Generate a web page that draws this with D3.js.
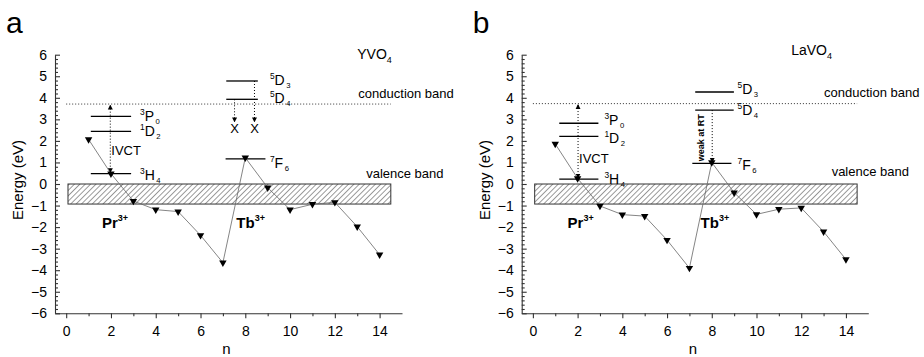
<!DOCTYPE html>
<html lang="en">
<head>
<meta charset="UTF-8">
<title>Pr3+ / Tb3+ levels</title>
<style>
 body{margin:0;background:#fff;}
 svg{display:block;font-family:"Liberation Sans",Arial,sans-serif;}
</style>
</head>
<body>
<svg width="924" height="357"></svg>
<script src="https://d3js.org/d3.v7.min.js"></script>
<script>
// n = number of 4f electrons
var nVals = [1, 2, 3, 4, 5, 6, 7, 8, 9, 10, 11, 12, 13, 14];
// ground state energies (eV) of Ln3+
var yvo4 = [2.07, 0.48, -0.79, -1.19, -1.28, -2.38, -3.65, 1.22, -0.17, -1.19, -0.94, -0.85, -1.98, -3.28];
var lavo4 = [1.86, 0.26, -1.02, -1.42, -1.49, -2.60, -3.90, 1.00, -0.40, -1.41, -1.17, -1.11, -2.21, -3.50];
// excited levels: Pr 3P0, 1D2, 3H4 / Tb 5D3, 5D4, 7F6
var levelNames = [["3", "P", "0"], ["1", "D", "2"], ["3", "H", "4"], ["5", "D", "3"], ["5", "D", "4"], ["7", "F", "6"]];
var yvo4Levels = [3.14, 2.44, 0.48, 4.78, 3.93, 1.17];
var lavo4Levels = [2.82, 2.21, 0.23, 4.27, 3.43, 0.96];
var cbYvo4 = 3.71, cbLavo4 = 3.73;
var vbTop = 0, vbBottom = -0.93;
var xTicks = [0, 2, 4, 6, 8, 10, 12, 14];
var xMinor = [1, 3, 5, 7, 9, 11, 13];
var yTicks = [-6, -5, -4, -3, -2, -1, 0, 1, 2, 3, 4, 5, 6];

var svg = d3.select("svg");
var defs = svg.append("defs");

defs.append("pattern").attr("id", "hatch").attr("patternUnits", "userSpaceOnUse")
    .attr("width", 3.8).attr("height", 3.8).attr("patternTransform", "rotate(45)")
    .append("line").attr("x1", 0).attr("y1", 0).attr("x2", 0).attr("y2", 3.8)
    .attr("stroke", "#222").attr("stroke-width", 0.9);

defs.append("marker").attr("id", "ah").attr("viewBox", "0 0 10 10")
    .attr("refX", 9).attr("refY", 5).attr("markerWidth", 5).attr("markerHeight", 6)
    .attr("orient", "auto-start-reverse").attr("markerUnits", "userSpaceOnUse")
    .append("path").attr("d", "M0,0L10,5L0,10Z").attr("fill", "#000");

var panels = [
  {letter: "a", host: ["YVO", "4"], values: yvo4, levels: yvo4Levels, cb: cbYvo4, x0: 55, x1: 402,
   prSpan: [1.1, 2.9], tbSpans: [[7.15, 8.56], [7.15, 8.56], [7.12, 8.9]], prLab: 3.3, tbLab: 9.1,
   labShift: [0, 0, 1, -1, -1, 4],
   ivct: 1.97, ivctY: 1.35, title: [13.0, 5.78], cbLab: [13.05, 3.99], vbLab: [13.4, 0.27], prIon: 1.6, tbIon: 7.6, kind: "yvo"},
  {letter: "b", host: ["LaVO", "4"], values: lavo4, levels: lavo4Levels, cb: cbLavo4, x0: 521.7, x1: 868.3,
   prSpan: [1.18, 2.93], tbSpans: [[7.26, 8.99], [7.26, 8.98], [7.13, 8.88]], prLab: 3.2, tbLab: 9.15,
   labShift: [-3, 2, 0, -3, 0, 2],
   ivct: 2.02, ivctY: 0.98, title: [11.55, 6.0], cbLab: [13.02, 4.06], vbLab: [13.36, 0.36], prIon: 1.55, tbIon: 7.5, kind: "lavo"}
];

function subText(g, x, y, parts, size) {
  var t = g.append("text").attr("x", x).attr("y", y).attr("font-size", size);
  t.append("tspan").attr("font-size", size * 0.6).attr("dy", -6).text(parts[0]);
  t.append("tspan").attr("dy", 6).text(parts[1]);
  t.append("tspan").attr("font-size", size * 0.55).attr("dy", 3).attr("dx", 1.5).text(parts[2]);
  return t;
}

panels.forEach(function (p) {
  var x = d3.scaleLinear().domain([-0.5, 15]).range([p.x0, p.x1]);
  var y = d3.scaleLinear().domain([-6, 6]).range([313.3, 54.7]);
  var g = svg.append("g");

  // panel letter
  g.append("text").attr("x", p.x0 - 49).attr("y", 33).attr("font-size", 30).text(p.letter);

  // valence band (hatched)
  g.append("rect").attr("x", x(0.08)).attr("y", y(vbTop))
      .attr("width", x(14.5) - x(0.08)).attr("height", y(vbBottom) - y(vbTop))
      .attr("fill", "url(#hatch)").attr("stroke", "#333").attr("stroke-width", 1);

  // conduction band
  g.append("line").attr("x1", x(0)).attr("x2", x(14.5)).attr("y1", y(p.cb)).attr("y2", y(p.cb))
      .attr("stroke", "#333").attr("stroke-width", 1).attr("stroke-dasharray", "1,2");

  // energy levels
  p.levels.forEach(function (e, i) {
    var span = i < 3 ? p.prSpan : p.tbSpans[i - 3];
    g.append("line").attr("x1", x(span[0])).attr("x2", x(span[1])).attr("y1", y(e)).attr("y2", y(e))
        .attr("stroke", "#000").attr("stroke-width", 1.3);
    subText(g, x(i < 3 ? p.prLab : p.tbLab), y(e) + 5 + p.labShift[i], levelNames[i], 14);
  });

  // IVCT double arrow
  g.append("line").attr("x1", x(p.ivct)).attr("x2", x(p.ivct))
      .attr("y1", y(p.levels[2]) - 1).attr("y2", y(p.cb) + 1)
      .attr("stroke", "#000").attr("stroke-width", 1).attr("stroke-dasharray", "1,2")
      .attr("marker-start", "url(#ah)").attr("marker-end", "url(#ah)");
  g.append("text").attr("x", x(p.ivct) + 1).attr("y", y(p.ivctY))
      .attr("font-size", 13).text("IVCT");

  if (p.kind === "yvo") {
    [[7.52, 4], [8.41, 3]].forEach(function (a) {
      g.append("line").attr("x1", x(a[0])).attr("x2", x(a[0]))
          .attr("y1", y(p.levels[a[1]])).attr("y2", y(2.88))
          .attr("stroke", "#000").attr("stroke-width", 1).attr("stroke-dasharray", "1,2")
          .attr("marker-end", "url(#ah)");
      g.append("text").attr("x", x(a[0])).attr("y", y(2.62) + 5).attr("text-anchor", "middle")
          .attr("font-size", 13).text("X");
    });
  } else {
    g.append("line").attr("x1", x(8.02)).attr("x2", x(8.02))
        .attr("y1", y(p.levels[4])).attr("y2", y(p.levels[5]) - 1)
        .attr("stroke", "#000").attr("stroke-width", 1).attr("stroke-dasharray", "1,2")
        .attr("marker-end", "url(#ah)");
    g.append("text").attr("transform", "translate(" + (x(7.5) + 3) + "," + y(2.15) + ") rotate(-90)")
        .attr("text-anchor", "middle").attr("font-size", 9).attr("font-weight", "bold")
        .text("weak at RT");
  }

  // ground state line + markers
  var pts = nVals.map(function (n, i) { return [n, p.values[i]]; });
  g.append("path").attr("d", d3.line().x(function (d) { return x(d[0]); }).y(function (d) { return y(d[1]); })(pts))
      .attr("fill", "none").attr("stroke", "#666").attr("stroke-width", 0.8);
  g.selectAll(".pt").data(pts).enter().append("path")
      .attr("transform", function (d) { return "translate(" + x(d[0]) + "," + y(d[1]) + ") rotate(180)"; })
      .attr("d", d3.symbol().type(d3.symbolTriangle).size(24)).attr("fill", "#000");

  // ion labels
  [["Pr", p.prIon], ["Tb", p.tbIon]].forEach(function (l) {
    var t = g.append("text").attr("x", x(l[1])).attr("y", y(-2.04)).attr("font-size", 15).attr("font-weight", "bold");
    t.append("tspan").text(l[0]);
    t.append("tspan").attr("font-size", 9).attr("dy", -7).text("3+");
  });

  // host title & band labels
  var ht = g.append("text").attr("x", x(p.title[0])).attr("y", y(p.title[1])).attr("font-size", 14);
  ht.append("tspan").text(p.host[0]);
  ht.append("tspan").attr("font-size", 9).attr("dy", 4).text(p.host[1]);
  g.append("text").attr("x", x(p.cbLab[0])).attr("y", y(p.cbLab[1])).attr("font-size", 13).text("conduction band");
  g.append("text").attr("x", x(p.vbLab[0])).attr("y", y(p.vbLab[1])).attr("font-size", 13).text("valence band");

  // axes
  var xAxis = g.append("g").attr("transform", "translate(0," + y(-6) + ")")
      .call(d3.axisBottom(x).tickValues(xTicks).tickSize(5).tickSizeOuter(0).tickPadding(8));
  g.append("g").attr("transform", "translate(0," + y(-6) + ")")
      .call(d3.axisBottom(x).tickValues(xMinor).tickSize(3).tickSizeOuter(0).tickFormat(""))
      .select(".domain").remove();
  var yAxis = g.append("g").attr("transform", "translate(" + x(-0.5) + ",0)")
      .call(d3.axisLeft(y).tickValues(yTicks).tickSize(-5).tickSizeOuter(0).tickPadding(8));
  var minor = d3.range(-6, 6.01, 0.2).filter(function (v) { return Math.abs(v - Math.round(v)) > 0.01; });
  g.append("g").attr("transform", "translate(" + x(-0.5) + ",0)")
      .call(d3.axisLeft(y).tickValues(minor).tickSize(-3).tickSizeOuter(0).tickFormat(""))
      .select(".domain").remove();
  [xAxis, yAxis].forEach(function (a) {
    a.selectAll("text").style("font-size", "14px").style("font-family", "Liberation Sans, Arial, sans-serif").attr("fill", "#000");
  });
  g.selectAll(".domain, .tick line").attr("stroke", "#333").attr("stroke-width", 1.1);

  g.append("text").attr("x", (x(-0.5) + x(15)) / 2 - 2).attr("y", 354).attr("text-anchor", "middle")
      .attr("font-size", 15).text("n");
  g.append("text").attr("transform", "translate(" + (x(-0.5) - 32) + ",180) rotate(-90)")
      .attr("text-anchor", "middle").attr("font-size", 15).text("Energy (eV)");
});
</script>
</body>
</html>
